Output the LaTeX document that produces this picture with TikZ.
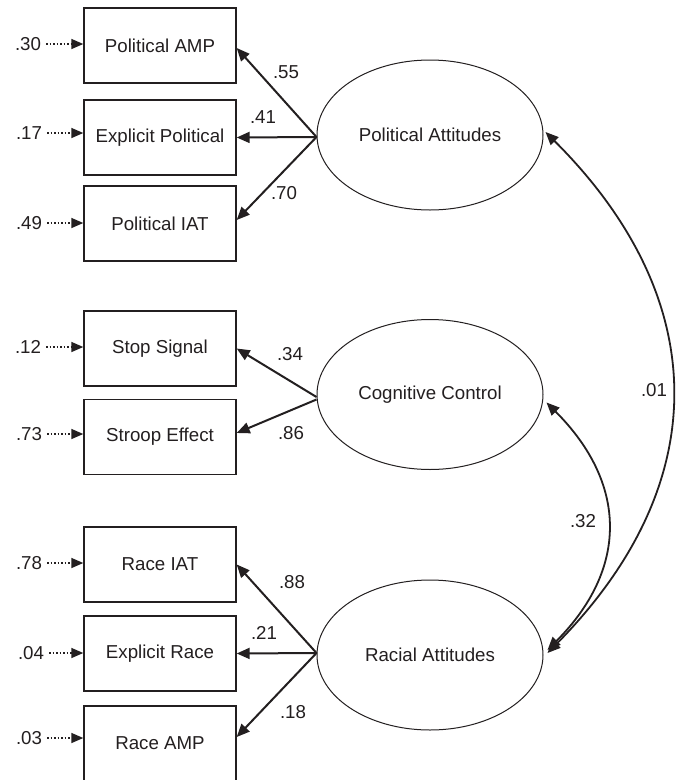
\documentclass[tikz,border=0pt]{standalone}
\usepackage{fontspec}
\setmainfont{Liberation Sans}
\usetikzlibrary{shapes.geometric,arrows.meta,calc}
\definecolor{ink}{RGB}{35,31,32}
\newcommand{\lbl}{\fontsize{18.7}{22}\selectfont}
\tikzset{
  box/.style={draw=ink, text=ink, line width=1.4pt, minimum width=152pt, minimum height=75pt, inner sep=0pt, font=\lbl},
  latent/.style={ellipse, draw=ink, text=ink, line width=1pt, minimum width=226pt, minimum height=150pt, inner sep=0pt, font=\lbl},
  load/.style={draw=ink, line width=2pt, -{Triangle[length=13pt,width=11pt]}},
  resid/.style={draw=ink, line width=1.5pt, dash pattern=on 1.5pt off 2pt, shorten <=5pt, -{Triangle[length=12pt,width=10pt]}},
  cov/.style={draw=ink, line width=1.8pt, {Triangle[length=13pt,width=11pt]}-{Triangle[length=13pt,width=11pt]}},
  num/.style={text=ink, font=\lbl, inner sep=0pt}
}
\begin{document}
\begin{tikzpicture}[x=1pt,y=-1pt]
\useasboundingbox[fill=white] (0,0) rectangle (680,780);

% observed variables
\node[box] (b1) at (160,45.5)  {Political AMP};
\node[box] (b2) at (160,137.5) {Explicit Political};
\node[box] (b3) at (160,223.5) {Political IAT};
\node[box] (b4) at (160,348.5) {Stop Signal};
\node[box] (b5) at (160,437)   {Stroop Effect};
\node[box] (b6) at (160,564.5) {Race IAT};
\node[box] (b7) at (160,653.5) {Explicit Race};
\node[box] (b8) at (160,743.5) {Race AMP};

% latent variables
\node[latent] (pa) at (430,135)   {Political Attitudes};
\node[latent] (cc) at (430,394.5) {Cognitive Control};
\node[latent] (ra) at (430,655)   {Racial Attitudes};

% residuals
\node[num] (r1) at (28,44)  {.30};
\node[num] (r2) at (29,133) {.17};
\node[num] (r3) at (29,223) {.49};
\node[num] (r4) at (28,347) {.12};
\node[num] (r5) at (29,434) {.73};
\node[num] (r6) at (29,563) {.78};
\node[num] (r7) at (31,653) {.04};
\node[num] (r8) at (29,738) {.03};
\draw[resid] (r1.east) -- (r1.east -| b1.west);
\draw[resid] (r2.east) -- (r2.east -| b2.west);
\draw[resid] (r3.east) -- (r3.east -| b3.west);
\draw[resid] (r4.east) -- (r4.east -| b4.west);
\draw[resid] (r5.east) -- (r5.east -| b5.west);
\draw[resid] (r6.east) -- (r6.east -| b6.west);
\draw[resid] (r7.east) -- (r7.east -| b7.west);
\draw[resid] (r8.east) -- (r8.east -| b8.west);

% loadings
\draw[load] ([yshift=-2pt]pa.west) -- ([yshift=-2.5pt]b1.east);
\draw[load] ([yshift=-2pt]pa.west) -- (b2.east);
\draw[load] ([yshift=-2pt]pa.west) -- ([yshift=3.5pt]b3.east);
\draw[load] ([yshift=-2.5pt]cc.west) -- (b4.east);
\draw[load] ([yshift=-5pt]cc.west) -- ([yshift=4pt]b5.east);
\draw[load] ([yshift=2pt]ra.west) -- (b6.east);
\draw[load] ([yshift=2pt]ra.west) -- (b7.east);
\draw[load] ([yshift=2pt]ra.west) -- ([yshift=6.5pt]b8.east);

\node[num] (l1) at (286,72)  {.55};
\node[num] (l2) at (263,117) {.41};
\node[num] (l3) at (284,193) {.70};
\node[num] (l4) at (290,354) {.34};
\node[num] (l5) at (291,433) {.86};
\node[num] (l6) at (292,582) {.88};
\node[num] (l7) at (264,633) {.21};
\node[num] (l8) at (293,712) {.18};

% covariances
\draw[cov] ([shift={(2pt,3pt)}]pa.east) .. controls (714,300) and (714,485) .. ([shift={(4pt,2pt)}]ra.east);
\draw[cov] ([shift={(3pt,-8pt)}]cc.east) .. controls (628,484) and (628,569) .. ([shift={(4pt,5pt)}]ra.east);
\node[num] (c1) at (654,390) {.01};
\node[num] (c2) at (583,521) {.32};
\end{tikzpicture}
\end{document}
